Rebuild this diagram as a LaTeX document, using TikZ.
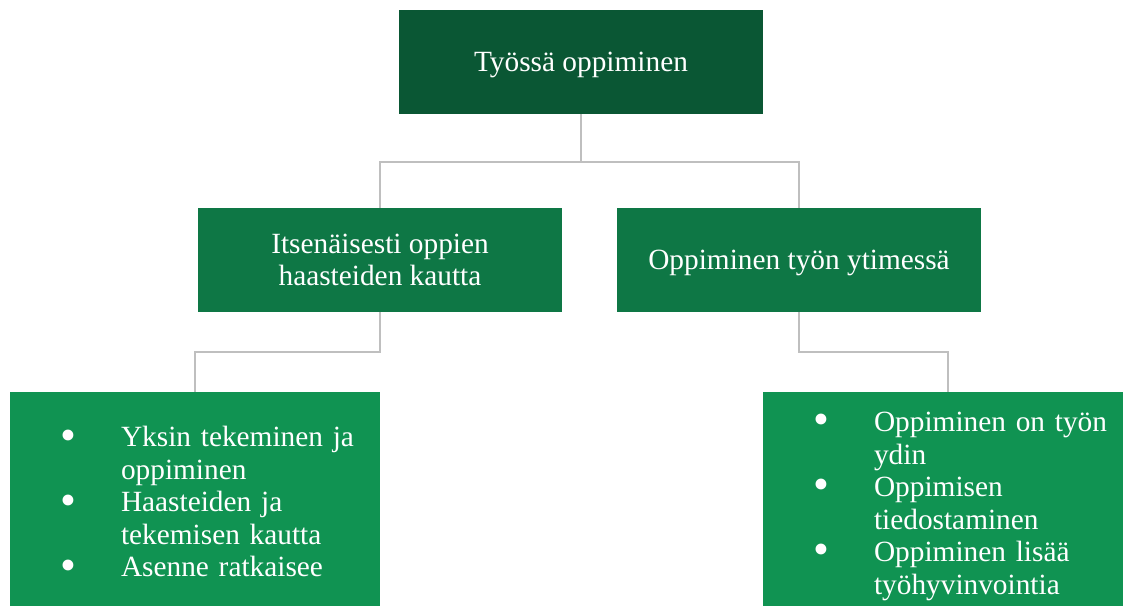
\documentclass[tikz,border=0pt]{standalone}
\usepackage{fontspec}
\setmainfont{Liberation Serif}
\usetikzlibrary{positioning,calc}

\definecolor{topgreen}{HTML}{0A5734}
\definecolor{midgreen}{HTML}{0E7745}
\definecolor{lowgreen}{HTML}{109352}
\definecolor{linkgray}{HTML}{BFBFBF}

\newcommand{\bulline}[1]{\makebox[45.75pt][l]{\raisebox{-2.5pt}{\fontsize{34}{24}\selectfont\textbullet}}\mbox{#1}}
\newcommand{\contline}[1]{\hspace*{45.75pt}\mbox{#1}}

\begin{document}
\begin{tikzpicture}[x=0.75pt, y=0.75pt,
    box/.style={rectangle, text=white, align=center, minimum width=273pt,
        minimum height=78pt, inner sep=0pt, text depth=0pt,
        font=\fontsize{22}{24}\selectfont},
    listbox/.style={rectangle, fill=lowgreen, text=white, align=left,
        text width=202.5pt, inner xsep=37.5pt, inner ysep=0pt,
        minimum height=166.5pt, font=\fontsize{22}{24.4}\selectfont},
    link/.style={draw=linkgray, line width=1.5pt}]
    \useasboundingbox (0,0) rectangle (1123,606);
    \clip (0,0) rectangle (1123,606);

    % Boxes
    \node[box, fill=topgreen] (work) at (581,544) {Työssä oppiminen};
    \node[box, fill=midgreen] (alone) at (380,346) {Itsenäisesti oppien\\haasteiden kautta};
    \node[box, fill=midgreen] (core) at (799,346) {Oppiminen työn ytimessä};

    % Lists
    \node[listbox, anchor=north] (alonelist) at (195,214)
        {\bulline{Yksin tekeminen ja}\\ \contline{oppiminen}\\
         \bulline{Haasteiden ja}\\ \contline{tekemisen kautta}\\
         \bulline{Asenne ratkaisee}};
    \node[listbox, anchor=north, minimum height=171pt] (corelist) at (948,214)
        {\bulline{Oppiminen on työn}\\ \contline{ydin}\\
         \bulline{Oppimisen}\\ \contline{tiedostaminen}\\
         \bulline{Oppiminen lisää}\\ \contline{työhyvinvointia}};

    % Connectors
    \draw[link] (work.south) -- ++(0,-48) -| (alone.north);
    \draw[link] (work.south) -- ++(0,-48) -| (core.north);
    \draw[link] (alone.south) -- ++(0,-40) -| (alonelist.north);
    \draw[link] (core.south) -- ++(0,-40) -| (corelist.north);
\end{tikzpicture}
\end{document}
